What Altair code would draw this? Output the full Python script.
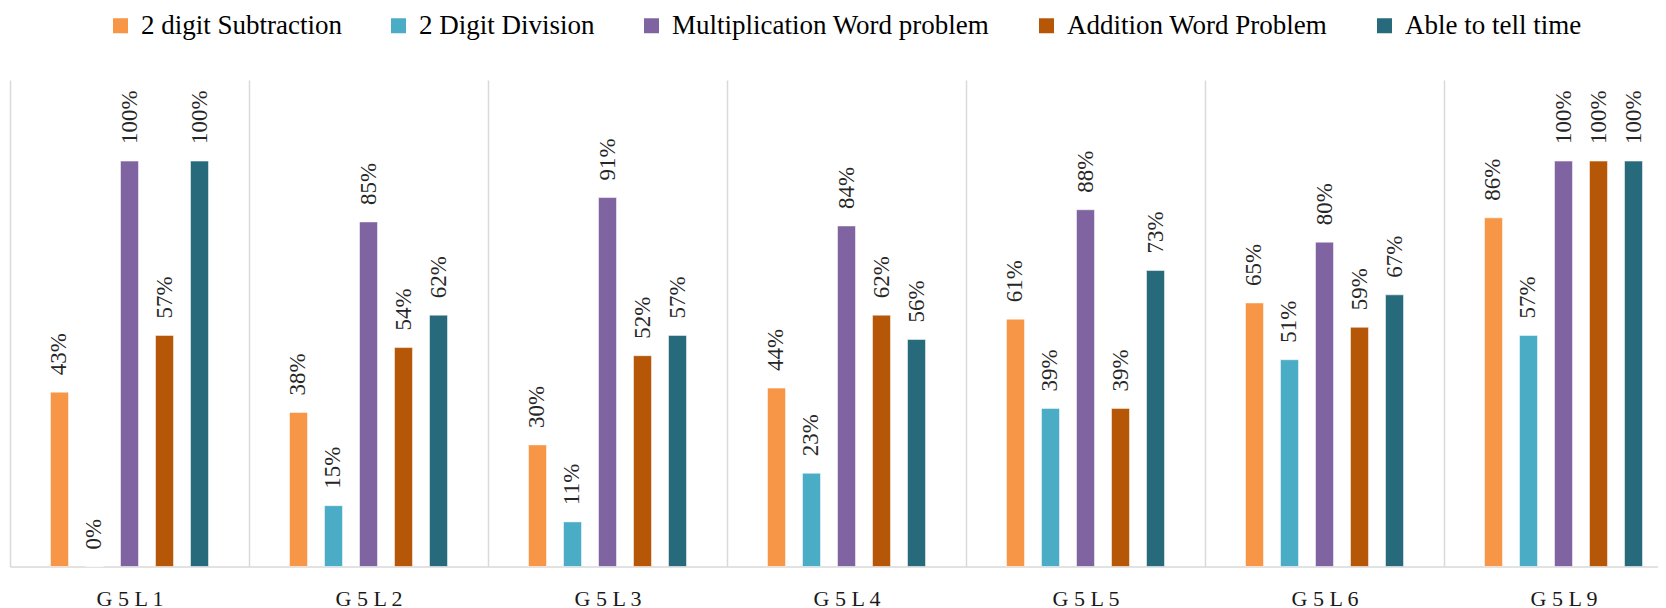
import altair as alt
import pandas as pd

groups = ["G5L1", "G5L2", "G5L3", "G5L4", "G5L5", "G5L6", "G5L9"]
series = ["2 digit Subtraction", "2 Digit Division", "Multiplication Word problem",
          "Addition Word Problem", "Able to tell time"]
subtraction = [43, 38, 30, 44, 61, 65, 86]
division = [0, 15, 11, 23, 39, 51, 57]
multiplication = [100, 85, 91, 84, 88, 80, 100]
addition = [57, 54, 52, 62, 39, 59, 100]
tell_time = [100, 62, 57, 56, 73, 67, 100]
colors = ["#F79646", "#4BACC6", "#8064A2", "#B65708", "#276A7C"]

rows = []
for s, vals in zip(series, [subtraction, division, multiplication, addition, tell_time]):
    for g, v in zip(groups, vals):
        rows.append({"group": g, "series": s, "value": v, "label": f"{v}%"})
df = pd.DataFrame(rows)

FONT = "Liberation Serif"

base = alt.Chart(df).encode(
    x=alt.X("group:N", sort=groups, title=None,
            scale=alt.Scale(range=[0, 1673], paddingInner=0, paddingOuter=0),
            axis=alt.Axis(grid=True, tickBand="extent", ticks=False,
                          domainColor="#d9d9d9", domainWidth=1.5,
                          gridColor="#d9d9d9", gridWidth=1.5,
                          labelFont=FONT, labelFontSize=22, labelColor="#1a1a1a",
                          labelAngle=0, labelPadding=39, labelBaseline="alphabetic",
                          labelExpr="join(split(datum.label, ''), ' ')")),
    xOffset=alt.XOffset("series:N", sort=series,
                        scale=alt.Scale(range=[40.5, 198.5], paddingInner=0.486, paddingOuter=0)),
    y=alt.Y("value:Q", scale=alt.Scale(domain=[0, 120], nice=False), axis=None),
)

bars = base.mark_bar(stroke="white", strokeWidth=1, strokeOpacity=0.5).encode(
    color=alt.Color("series:N", sort=series,
                    scale=alt.Scale(domain=series, range=colors),
                    legend=alt.Legend(title=None, orient="none", legendX=97, legendY=-68,
                                      direction="horizontal", columns=5,
                                      symbolType="square", symbolSize=225,
                                      symbolStrokeWidth=0,
                                      labelFont=FONT, labelFontSize=27, labelColor="#000000",
                                      labelLimit=500, labelOffset=7, columnPadding=43,
                                      padding=0))
)

text = base.mark_text(angle=270, align="left", baseline="middle", dx=17,
                      font=FONT, fontSize=23, color="#262626").encode(text="label:N")

chart = (bars + text).properties(
    width=1648, height=486.5,
    autosize=alt.AutoSizeParams(type="none"),
    padding={"left": 2, "top": 72, "right": 0, "bottom": 60},
).configure_view(stroke=None)

chart.save("out.html", embed_options={"renderer": "svg", "actions": False})
